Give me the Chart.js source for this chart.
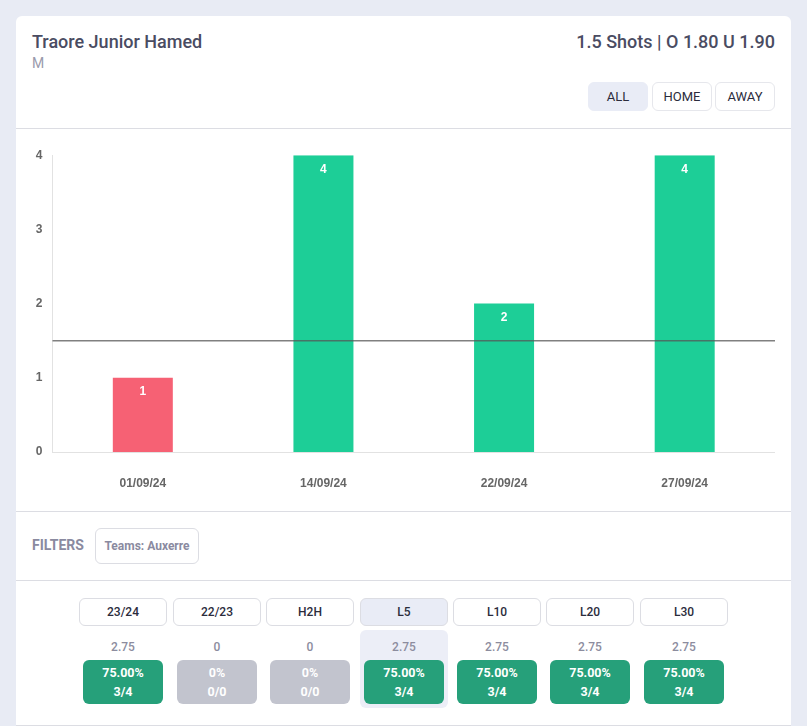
<!DOCTYPE html>
<html>
<head>
<meta charset="utf-8">
<title>Traore Junior Hamed</title>
<script src="https://cdn.jsdelivr.net/npm/chart.js@4"></script>
<style>
  html, body { margin: 0; padding: 0; }
  body { width: 807px; height: 726px; background: #e8ebf4; position: relative; overflow: hidden; font-family: Roboto, sans-serif; }
  .card { position: absolute; left: 16px; top: 16px; width: 775px; height: 720px; background: #fff; border-radius: 6px; }
  .rule { position: absolute; left: 16px; width: 775px; height: 1px; background: #dcdde3; }
  .abs { position: absolute; white-space: nowrap; }
  .btn { position: absolute; box-sizing: border-box; border: 1px solid #e6e7ec; border-radius: 6px; background: #fff; color: #2b2c3c; text-align: center; }
  .btn.on { background: #e9ecf6; border-color: #e9ecf6; }
  #chart-wrap { position: absolute; left: 16px; top: 138px; width: 759px; height: 362px; }
  .period { font-size: 12px; font-weight: 500; height: 28px; line-height: 26px; width: 88px; border-color: #dcdde3; top: 598px; }
  .period.on { border-color: #dcdde3; }
  .hl { position: absolute; left: 360px; top: 630px; width: 88px; height: 78px; background: #eceef7; border-radius: 6px; }
  .avg { position: absolute; top: 640px; width: 88px; text-align: center; font-size: 12px; font-weight: 500; color: #8c8c9e; }
  .rate { position: absolute; top: 660px; width: 80px; height: 44px; border-radius: 6px; color: #fff; text-align: center; font-size: 12.5px; font-weight: 700; line-height: 19px; padding-top: 3px; box-sizing: border-box; }
</style>
</head>
<body>
<div class="card"></div>
<div class="abs" style="left:32px;top:31px;font-size:18px;font-weight:500;color:#4a4c62">Traore Junior Hamed</div>
<div class="abs" style="left:32px;top:55px;font-size:14px;color:#9a9aac">M</div>
<div class="abs" style="right:32px;top:31px;font-size:18px;font-weight:500;color:#4a4c62">1.5 Shots | O 1.80 U 1.90</div>
<div class="btn on" style="left:588px;top:82px;width:60px;height:29px;line-height:27px;font-size:13px">ALL</div>
<div class="btn" style="left:652px;top:82px;width:60px;height:29px;line-height:27px;font-size:13px">HOME</div>
<div class="btn" style="left:715px;top:82px;width:60px;height:29px;line-height:27px;font-size:13px">AWAY</div>
<div class="rule" style="top:128px"></div>
<div id="chart-wrap"><canvas id="shots-chart"></canvas></div>
<div class="rule" style="top:511px"></div>
<div class="abs" style="left:32px;top:537px;font-size:14px;font-weight:700;color:#8a8aa0">FILTERS</div>
<div class="btn" style="left:95px;top:528px;width:104px;height:36px;line-height:34px;font-size:12px;font-weight:700;color:#8a8aa0;border-color:#dcdde3">Teams: Auxerre</div>
<div class="rule" style="top:580px"></div>
<div class="hl"></div>
<div id="periods"></div>
<div class="rule" style="top:725px"></div>

<script>
// Match data
const matchDates = ['01/09/24', '14/09/24', '22/09/24', '27/09/24'];
const shots = [1, 4, 2, 4];
const shotLine = 1.5;

// Period table under the chart
const periodLabels = ['23/24', '22/23', 'H2H', 'L5', 'L10', 'L20', 'L30'];
const periodAverages = ['2.75', '0', '0', '2.75', '2.75', '2.75', '2.75'];
const periodRates = ['75.00%', '0%', '0%', '75.00%', '75.00%', '75.00%', '75.00%'];
const periodCounts = ['3/4', '0/0', '0/0', '3/4', '3/4', '3/4', '3/4'];
const periodLefts = [79, 173, 266, 360, 453, 546, 640];
const activePeriod = 'L5';

const holder = document.getElementById('periods');
periodLabels.forEach((label, i) => {
  const left = periodLefts[i];
  const played = periodCounts[i] !== '0/0';
  holder.insertAdjacentHTML('beforeend',
    `<div class="btn period${label === activePeriod ? ' on' : ''}" style="left:${left}px">${label}</div>` +
    `<div class="avg" style="left:${left}px">${periodAverages[i]}</div>` +
    `<div class="rate" style="left:${left + 4}px;background:${played ? '#26a07a' : '#c2c4ce'}">${periodRates[i]}<br>${periodCounts[i]}</div>`);
});

// Horizontal line at the bookmaker's number, drawn over the bars
const linePlugin = {
  id: 'shotLine',
  afterDatasetsDraw(chart) {
    const { ctx, chartArea, scales } = chart;
    const y = scales.y.getPixelForValue(shotLine);
    ctx.save();
    ctx.strokeStyle = 'rgba(85, 85, 85, 0.75)';
    ctx.lineWidth = 1.5;
    ctx.beginPath();
    ctx.moveTo(chartArea.left, y);
    ctx.lineTo(chartArea.right, y);
    ctx.stroke();
    ctx.restore();
  }
};

// Value written inside the top of each bar
const valuePlugin = {
  id: 'barValues',
  afterDatasetsDraw(chart) {
    const { ctx } = chart;
    const meta = chart.getDatasetMeta(0);
    ctx.save();
    ctx.fillStyle = '#fff';
    ctx.font = "bold 12px 'Liberation Sans', sans-serif";
    ctx.textAlign = 'center';
    ctx.textBaseline = 'middle';
    meta.data.forEach((bar, i) => ctx.fillText(shots[i], bar.x, bar.y + 14));
    ctx.restore();
  }
};

new Chart(document.getElementById('shots-chart'), {
  type: 'bar',
  data: {
    labels: matchDates,
    datasets: [{
      data: shots,
      backgroundColor: shots.map(v => v > shotLine ? '#1dce97' : '#f66174'),
      maxBarThickness: 60
    }]
  },
  options: {
    responsive: true,
    maintainAspectRatio: false,
    animation: false,
    layout: { padding: { top: 13 } },
    plugins: { legend: { display: false }, tooltip: { enabled: false } },
    scales: {
      x: {
        grid: { display: false, drawTicks: false },
        border: { color: '#e2e2e2' },
        afterFit: (axis) => { axis.height = 48; },
        ticks: { color: '#666', padding: 24, font: { family: "'Liberation Sans', sans-serif", size: 12, weight: 'bold' } }
      },
      y: {
        min: 0,
        max: 4,
        grid: { display: false, drawTicks: false },
        border: { color: '#e2e2e2' },
        afterFit: (axis) => { axis.width = 36.5; },
        ticks: { stepSize: 1, color: '#666', padding: 10, font: { family: "'Liberation Sans', sans-serif", size: 12, weight: 'bold' } }
      }
    }
  },
  plugins: [linePlugin, valuePlugin]
});
</script>
</body>
</html>
